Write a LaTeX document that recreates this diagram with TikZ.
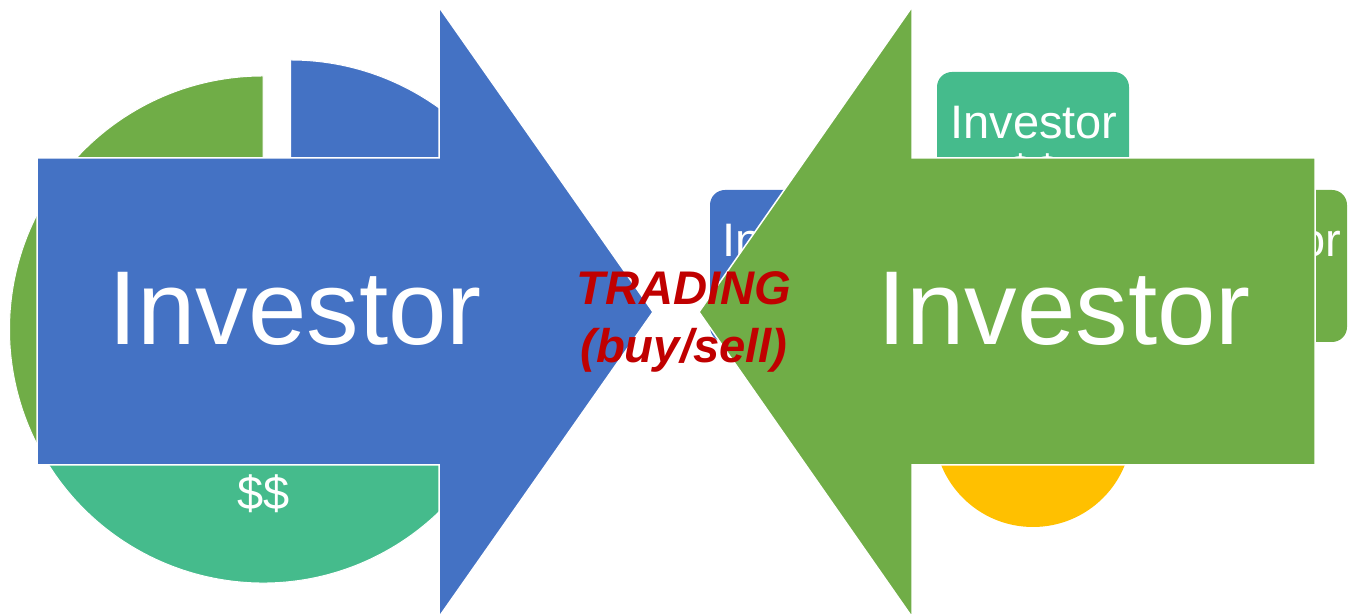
\documentclass[tikz,border=0pt]{standalone}
\usepackage{fontspec}
\setmainfont{Liberation Sans}
\definecolor{pblue}{HTML}{4472C4}
\definecolor{pgreen}{HTML}{70AD47}
\definecolor{pteal}{HTML}{45BB8C}
\definecolor{pyellow}{HTML}{FFC000}
\definecolor{tradered}{HTML}{C00000}
\tikzset{
  slice/.style={draw=white, line width=0.5pt},
  bigarrow/.style={draw=white, line width=0.75pt, line join=miter},
  satbox/.style={rectangle, rounded corners=7.5pt, minimum width=96pt, minimum height=76pt, inner sep=0pt},
  bigtext/.style={text=white, inner sep=0pt, anchor=base, font=\fontsize{52.5}{63}\selectfont},
  boxtext/.style={text=white, inner sep=0pt, anchor=base, font=\fontsize{23.5}{28}\selectfont},
  tradetext/.style={text=tradered, inner sep=0pt, anchor=base, font=\fontsize{23.6}{29}\selectfont\bfseries\itshape}
}

\begin{document}
\begin{tikzpicture}[x=0.5pt, y=0.5pt]
  \useasboundingbox (0,0) rectangle (1348,614);
  % pie behind the left arrow, blue slice pulled out
  \coordinate (pie) at (263,284.5);
  \path[slice, fill=pgreen] (pie) -- ++(90:253.5) arc[start angle=90, end angle=210, radius=253.5] -- cycle;
  \path[slice, fill=pteal] (pie) -- ++(210:253.5) arc[start angle=210, end angle=330, radius=253.5] -- cycle;
  \path[slice, fill=pblue] ([shift={(30:32)}]pie) -- ++(-30:253.5) arc[start angle=-30, end angle=90, radius=253.5] -- cycle;
  \node[boxtext] (pcash) at (264,104) {\$\$};

  % boxes and circle behind the right arrow
  \node[satbox, fill=pblue] (lbox) at (806,348) {};
  \node[satbox, fill=pteal] (tbox) at (1033,466) {};
  \node[satbox, fill=pgreen] (rbox) at (1251,348) {};
  \node[circle, fill=pyellow, minimum size=99pt, inner sep=0pt] (hub) at (1033,186) {};
  \node[boxtext] (ltxt) at (806,357) {Investor};
  \node[boxtext] (ttxt) at (1034,475) {Investor};
  \node[boxtext] (tcash) at ([yshift=-25pt]ttxt.base) {\$\$};
  \node[boxtext] (rtxt) at (1258,357) {Investor};

  % the two big arrows
  \path[bigarrow, fill=pblue] (37,456) -- (439,456) -- (439,607) -- (653,302)
       -- (439,-3) -- (439,149) -- (37,149) -- cycle;
  \path[bigarrow, fill=pgreen] (1315,456) -- (912,456) -- (912,607) -- (699,302)
       -- (912,-3) -- (912,149) -- (1315,149) -- cycle;
  \node[bigtext] (buyer) at (295,269) {Investor};
  \node[bigtext] (seller) at (1064,269) {Investor};

  \node[tradetext] (trading) at (684,309) {TRADING};
  \node[tradetext] (buysell) at ([yshift=-29pt]trading.base) {(buy/sell)};
\end{tikzpicture}
\end{document}
